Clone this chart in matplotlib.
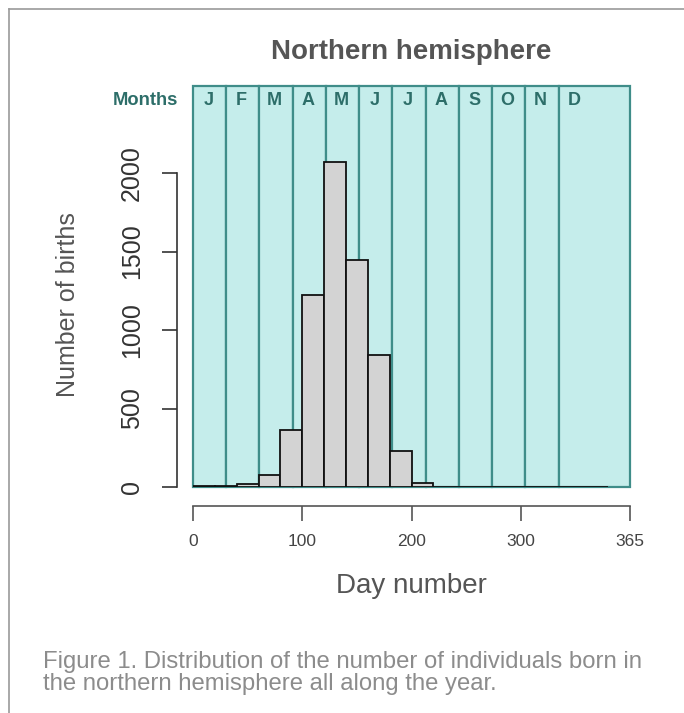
import numpy as np
import matplotlib.pyplot as plt
from matplotlib.lines import Line2D

plt.rcParams['font.family'] = ['Liberation Sans', 'DejaVu Sans']

# histogram of birth day (20-day bins, left edges)
bin_left = [0, 20, 40, 60, 80, 100, 120, 140, 160, 180, 200,
            220, 240, 260, 280, 300, 320, 340, 360]
counts = [4, 4, 22, 76, 362, 1225, 2068, 1447, 840, 228, 24,
          0, 0, 0, 2, 1, 1, 2, 1]

months = ["J", "F", "M", "A", "M", "J", "J", "A", "S", "O", "N", "D"]
x_ticks = [0, 100, 200, 300, 400]
x_tick_labels = ["0", "100", "200", "300", "365"]
y_ticks = [0, 500, 1000, 1500, 2000]

W, H = 684, 713
fig = plt.figure(figsize=(W / 100, H / 100), dpi=100)

def fx(px):
    return px / W

def fy(py):
    return 1 - py / H

ax = fig.add_axes([fx(193), fy(487), fx(630) - fx(193), fy(86) - fy(487)])
xmax = 400
ymax = (487 - 86) / 0.157
ax.set_xlim(0, xmax)
ax.set_ylim(0, ymax)

# month background rectangles
teal_fill = "#c5edeb"
teal_edge = "#3f8d89"
month_w = 365 / 12
starts = np.arange(12) * month_w
widths = np.diff(np.append(starts, xmax))
ax.bar(starts, ymax, width=widths, align="edge", color=teal_fill,
       edgecolor=teal_edge, linewidth=1.6, zorder=1, clip_on=False)
for s, m in zip(starts, months):
    ax.text(s + 14, ymax - 95, m, ha="center", va="center",
            fontsize=13, fontweight="bold", color="#2d6e69", zorder=4)
ax.text(-14, ymax - 95, "Months", ha="right", va="center",
        fontsize=13.2, fontweight="bold", color="#2d6e69", clip_on=False)

# histogram bars
ax.bar(bin_left, counts, width=20, align="edge", color="#d3d3d3",
       edgecolor="#111111", linewidth=1.3, zorder=3)

# R-style detached axes
for side in ["top", "right"]:
    ax.spines[side].set_visible(False)
ax.spines["bottom"].set_position(("outward", 14))
ax.spines["bottom"].set_bounds(0, 400)
ax.spines["bottom"].set_color("#555555")
ax.spines["left"].set_position(("outward", 11.5))
ax.spines["left"].set_bounds(0, 2000)
ax.spines["left"].set_color("#333333")
for sp in ["bottom", "left"]:
    ax.spines[sp].set_linewidth(1.2)

ax.set_xticks(x_ticks)
ax.set_xticklabels(x_tick_labels)
ax.set_yticks(y_ticks)
ax.set_yticklabels([str(v) for v in y_ticks], rotation=90, va="center")
ax.tick_params(axis="x", length=11, width=1.2, color="#555555",
               labelsize=12.5, labelcolor="#444444", pad=9)
ax.tick_params(axis="y", length=11, width=1.2, color="#333333",
               labelsize=18, labelcolor="#333333", pad=13)

fig.text(fx(411), fy(586), "Day number", ha="center", va="center",
         fontsize=20, color="#555555")
fig.text(fx(68), fy(305), "Number of births", ha="center", va="center",
         rotation=90, fontsize=18, color="#555555")
fig.text(fx(411), fy(52), "Northern hemisphere", ha="center", va="center",
         fontsize=20, fontweight="bold", color="#555555")

caption_lines = ["Figure 1. Distribution of the number of individuals born in",
                 "the northern hemisphere all along the year."]
for py, line in zip([668, 690], caption_lines):
    fig.text(fx(43), fy(py), line, ha="left", va="baseline",
             fontsize=17.2, color="#8c8c8c")

# frame lines of the page
fig.add_artist(Line2D([fx(9), 1], [fy(9), fy(9)], color="#9a9a9a", lw=1.2))
fig.add_artist(Line2D([fx(9), fx(9)], [fy(9), 0], color="#9a9a9a", lw=1.2))

fig.savefig("out.png", dpi=100)
